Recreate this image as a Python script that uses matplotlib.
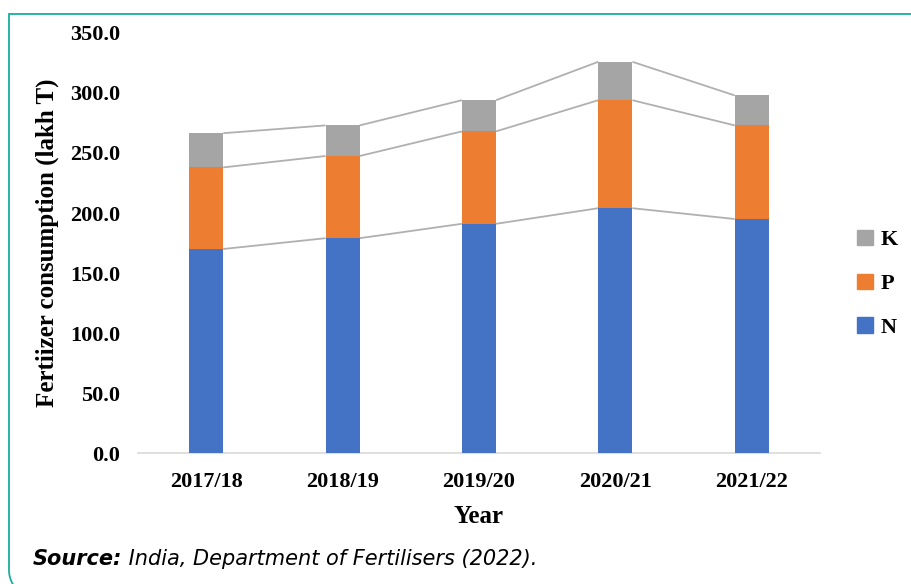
import numpy as np
import matplotlib.pyplot as plt
from matplotlib.patches import Patch

years = ['2017/18', '2018/19', '2019/20', '2020/21', '2021/22']
N = [170.0, 179.0, 191.0, 204.0, 195.0]
P = [68.0, 68.5, 77.0, 90.0, 78.0]
K = [28.5, 25.5, 26.0, 32.0, 25.0]

c_n = '#4472C4'
c_p = '#ED7D31'
c_k = '#A5A5A5'

plt.rcParams['font.family'] = ['Liberation Serif', 'DejaVu Serif']
plt.rcParams['font.weight'] = 'bold'

fig = plt.figure(figsize=(9.11, 5.84), dpi=100)
ax = fig.add_axes([0.1515, 0.2243, 0.7485, 0.7192])

x = np.arange(len(years))
w = 0.25
n = np.array(N)
p = np.array(P)
k = np.array(K)
ax.bar(x, n, w, color=c_n, zorder=3)
ax.bar(x, p, w, bottom=n, color=c_p, zorder=3)
ax.bar(x, k, w, bottom=n + p, color=c_k, zorder=3)

# series lines between bars
for level in [n, n + p, n + p + k]:
    for i in range(len(x) - 1):
        ax.plot([x[i] + w / 2, x[i + 1] - w / 2], [level[i], level[i + 1]],
                color='#B0B0B0', lw=1.3, zorder=2, solid_capstyle='butt')

ax.set_xlim(-0.5, len(years) - 0.5)
ax.set_ylim(0, 350)
ax.set_yticks(np.arange(0, 351, 50))
ax.set_yticklabels(['%.1f' % v for v in np.arange(0, 351, 50)], fontsize=16, fontweight='bold')
ax.set_xticks(x)
ax.set_xticklabels(years, fontsize=16, fontweight='bold')
ax.tick_params(length=0, pad=14)
ax.tick_params(axis='y', pad=13)
for s in ['top', 'right', 'left']:
    ax.spines[s].set_visible(False)
ax.spines['bottom'].set_color('#D9D9D9')
ax.spines['bottom'].set_linewidth(1.2)

ax.set_xlabel('Year', fontsize=18, fontweight='bold', labelpad=9)
ax.set_ylabel('Fertiizer consumption (lakh T)', fontsize=18, fontweight='bold', labelpad=8)

handles = [Patch(color=c_k, label='K'), Patch(color=c_p, label='P'), Patch(color=c_n, label='N')]
fig.legend(handles=handles, loc='center left', bbox_to_anchor=(0.941, 0.514),
           frameon=False, handlelength=0.7, handleheight=0.7,
           handletextpad=0.35, labelspacing=1.05, borderpad=0, borderaxespad=0,
           prop={'weight': 'bold', 'size': 16})

# frame: square top-left, rounded bottom-left
r = 0.28
th = np.linspace(np.pi, 1.5 * np.pi, 30)
left, top, bottom = 0.09, 5.84 - 0.14, -0.14
bx = np.concatenate([[9.3, left], left + r + r * np.cos(th)])
by = np.concatenate([[top, top], bottom + r + r * np.sin(th)])
fig.add_artist(plt.Line2D(bx, by, transform=fig.dpi_scale_trans, color='#19AE9C',
                          lw=1.3, solid_joinstyle='miter'))

t1 = fig.text(33 / 911, 1 - 565 / 584, 'Source:', fontsize=15, fontweight='bold',
              style='italic', family='DejaVu Sans', va='baseline')
ax.annotate(' India, Department of Fertilisers (2022).', xy=(1, 0), xycoords=t1,
            fontsize=15, fontweight='normal', style='italic', family='DejaVu Sans',
            va='bottom', annotation_clip=False)

fig.savefig('out.png', dpi=100)
